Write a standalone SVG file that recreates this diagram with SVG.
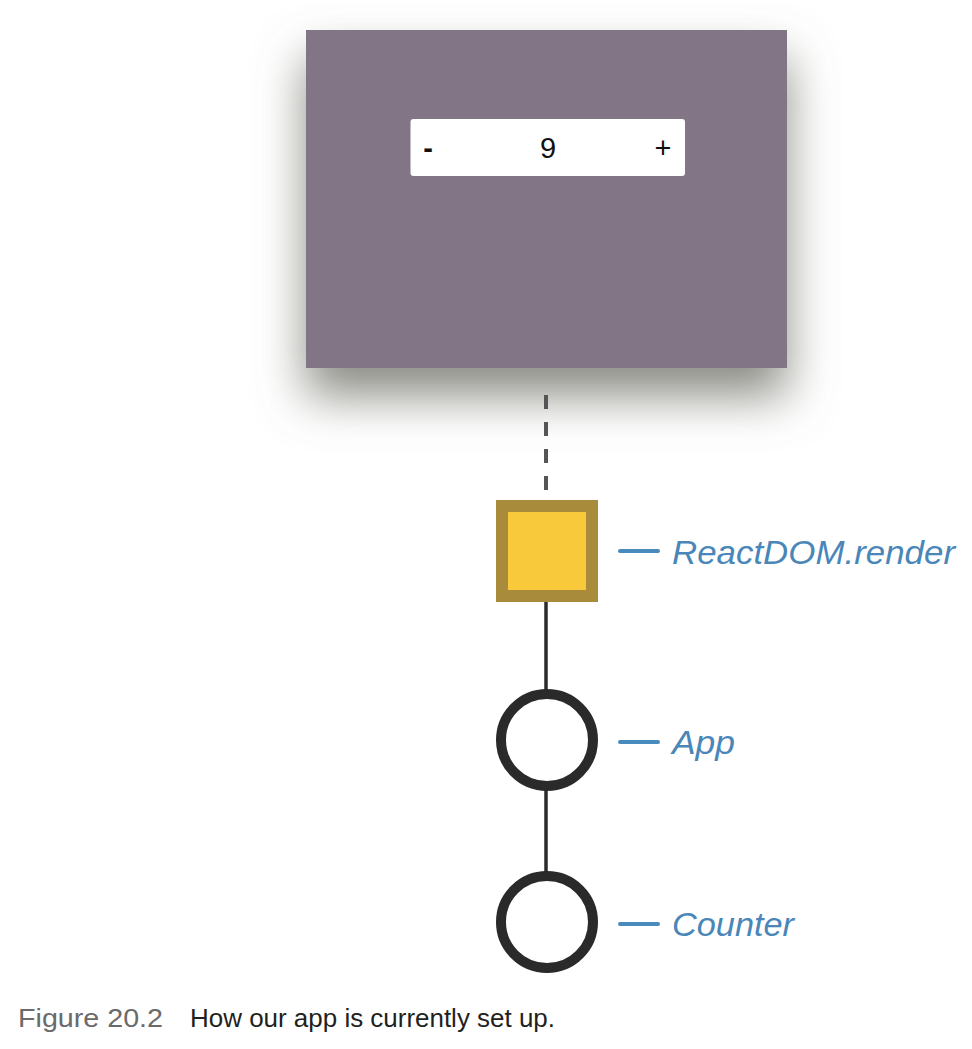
<svg xmlns="http://www.w3.org/2000/svg" width="972" height="1049" viewBox="0 0 972 1049">
<defs>
<filter id="shadow" x="-30%" y="-30%" width="160%" height="190%">
<feDropShadow dx="0" dy="28" stdDeviation="24" flood-color="#6e6e66" flood-opacity="0.8"/>
</filter>
</defs>
<style>
.lbl{font-family:"Liberation Sans",Arial,sans-serif;font-style:italic;font-size:34px;fill:#4a86b8}
.tick{stroke:#4a8bbd;stroke-width:4;stroke-linecap:round}
.conn{stroke:#2b2b2b;stroke-width:3.5;fill:none}
.node{fill:#ffffff;stroke:#2a2a2a;stroke-width:10}
.ui{font-family:"Liberation Sans",Arial,sans-serif;font-size:29px;fill:#111;text-anchor:middle}
</style>
<rect width="972" height="1049" fill="#ffffff"/>
<g id="screen">
<rect x="306" y="30" width="481" height="338" fill="#827686" filter="url(#shadow)"/>
<rect x="410.5" y="119" width="274.5" height="57" rx="3" fill="#ffffff"/>
<text class="ui" x="428" y="158" font-weight="bold">-</text>
<text class="ui" x="548" y="158">9</text>
<text class="ui" x="663" y="158">+</text>
</g>
<g id="connectors">
<line x1="546" y1="395" x2="546" y2="492" stroke="#555" stroke-width="4" stroke-dasharray="14 13" stroke-linecap="butt"/>
<line class="conn" x1="546" y1="602" x2="546" y2="692"/>
<line class="conn" x1="546" y1="788" x2="546" y2="874"/>
</g>
<g id="reactdom">
<rect x="502" y="506" width="90" height="90" fill="#f7c93b" stroke="#a98b3c" stroke-width="12"/>
<line class="tick" x1="620" y1="551" x2="658" y2="551"/>
<text class="lbl" x="672" y="564" textLength="283" lengthAdjust="spacingAndGlyphs">ReactDOM.render</text>
</g>
<g id="app">
<circle class="node" cx="547" cy="740" r="46"/>
<line class="tick" x1="620" y1="742" x2="658" y2="742"/>
<text class="lbl" x="672" y="754" textLength="63" lengthAdjust="spacingAndGlyphs">App</text>
</g>
<g id="counter">
<circle class="node" cx="547" cy="922" r="46"/>
<line class="tick" x1="620" y1="924" x2="658" y2="924"/>
<text class="lbl" x="672" y="936" textLength="122" lengthAdjust="spacingAndGlyphs">Counter</text>
</g>
<g id="caption" font-family="Liberation Sans,Arial,sans-serif" font-size="25">
<text x="18" y="1027" fill="#6a6a6a" textLength="145" lengthAdjust="spacingAndGlyphs">Figure 20.2</text>
<text x="190" y="1027" fill="#231f20" textLength="365" lengthAdjust="spacingAndGlyphs">How our app is currently set up.</text>
</g>
</svg>
